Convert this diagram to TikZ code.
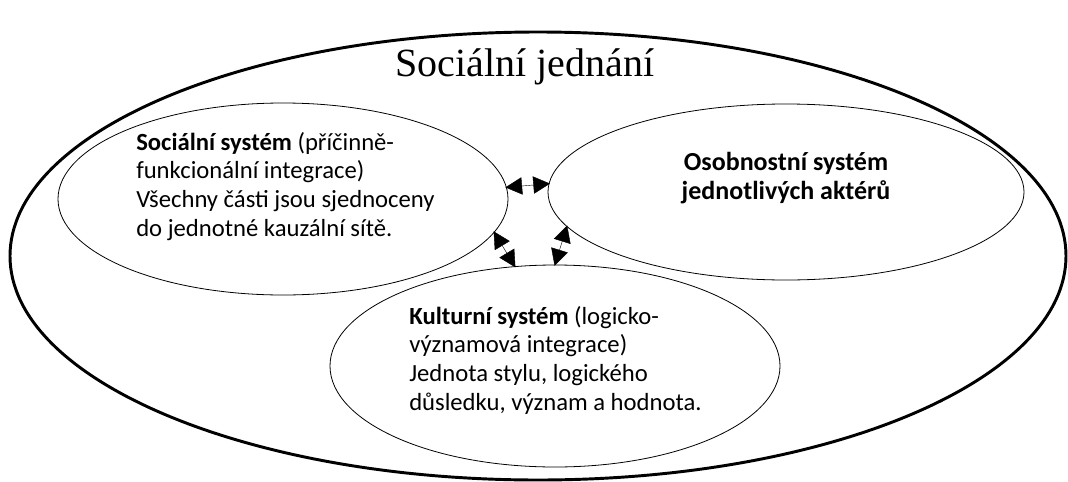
\documentclass[tikz,border=0pt]{standalone}
\usepackage{fontspec}
\setmainfont{Carlito}
\newfontfamily\titlefont{Liberation Serif}
\usetikzlibrary{shapes.geometric,arrows.meta}
\begin{document}
\begin{tikzpicture}[x=0.75pt,y=-0.75pt,
  circ/.style={draw,ellipse,line width=0.6pt,inner sep=0pt},
  lbl/.style={font=\fontsize{18.5}{21.5}\selectfont,inner sep=0pt},
  biarrow/.style={{Triangle[length=12.5pt,width=13pt]}-{Triangle[length=12.5pt,width=13pt]},line width=0.3pt,shorten <=-1pt,shorten >=-1pt}]
\useasboundingbox (0,0) rectangle (1068,482);
\node[draw,ellipse,line width=2.2pt,minimum width=792pt,minimum height=336pt,inner sep=0pt] (outer) at (538,256) {};
\node[font=\titlefont\fontsize{30}{36}\selectfont,inner sep=0pt] (title) at (525,67) {Sociální jednání};
\node[circ,minimum width=337.5pt,minimum height=144pt] (soc) at (283,199) {};
\node[circ,minimum width=357pt,minimum height=132pt] (oso) at (786,192) {};
\node[circ,minimum width=337.5pt,minimum height=151.5pt] (kul) at (555,366) {};
\node[lbl,align=left,anchor=north west] (soct) at (136,132) {\textbf{Sociální systém} (příčinně-\\funkcionální integrace)\\Všechny části jsou sjednoceny\\do jednotné kauzální sítě.};
\node[lbl,font=\fontsize{19.5}{22}\selectfont,align=center,anchor=north] (osot) at (786,152) {\textbf{Osobnostní systém}\\\textbf{jednotlivých aktérů}};
\node[lbl,align=left,anchor=north west] (kult) at (409,306) {\textbf{Kulturní systém} (logicko-\\významová integrace)\\Jednota stylu, logického\\důsledku, význam a hodnota.};
\draw[biarrow] (soc.3) -- (oso.178.5);
\draw[biarrow] (soc.-9) -- (kul.112);
\draw[biarrow] (oso.-171.6) -- (kul.90);
\end{tikzpicture}
\end{document}
